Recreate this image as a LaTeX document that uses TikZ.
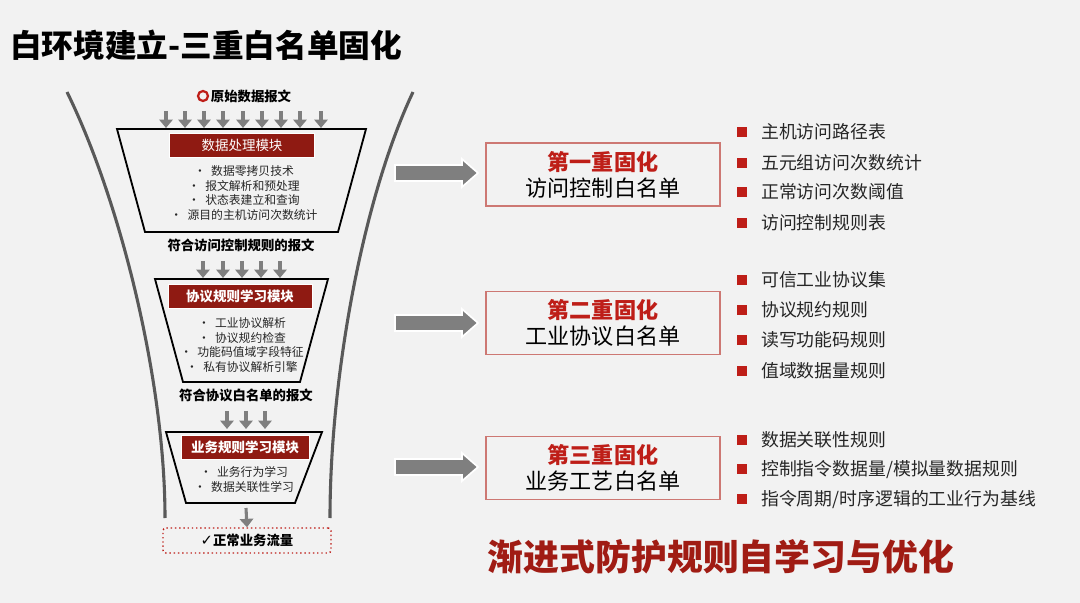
\documentclass[tikz,border=0pt]{standalone}
\usepackage{fontspec}
\setmainfont{Noto Sans CJK SC}
\newfontfamily\symfont{DejaVu Sans}
\usetikzlibrary{positioning, arrows.meta, calc}
\definecolor{cBg}{RGB}{242,242,242}
\definecolor{cLine}{RGB}{89,89,89}
\definecolor{cGray}{RGB}{127,127,127}
\definecolor{cDark}{RGB}{143,26,18}
\definecolor{cRed}{RGB}{190,30,24}
\definecolor{cBorder}{RGB}{205,120,115}
\definecolor{cText}{RGB}{38,38,38}
\definecolor{cSlogan}{RGB}{160,28,20}
\newcommand{\sq}{{\color{cRed}\raisebox{1.2pt}{\rule{7pt}{7pt}}}\hspace{10pt}}

\begin{document}
\begin{tikzpicture}[x=0.025cm, y=-0.025cm, >=Triangle,
    darr/.style={cGray, line width=2.2pt, -{Triangle[length=6pt, width=9.5pt]}},
    funnel/.style={black, line width=1.3pt, line join=miter},
    wall/.style={cLine, line width=2.2pt},
    modlabel/.style={fill=cDark, draw=white, line width=0.4pt, text=white, inner sep=0pt,
        minimum height=0.6cm, font=\fontsize{9.6}{11}\selectfont},
    bullets/.style={align=center, text=cText, inner sep=0pt, font=\fontsize{8.4}{10.4}\selectfont},
    passed/.style={font=\fontsize{9.5}{11}\selectfont\bfseries, inner sep=0pt},
    bigarrow/.style={fill=cGray, draw=white, line width=1.2pt, line join=miter},
    wlbox/.style={draw=cBorder, line width=0.8pt, align=center, text=black,
        minimum width=5.85cm, minimum height=1.575cm, font=\fontsize{15.7}{18.6}\selectfont},
    item/.style={anchor=west, inner sep=0pt, text=cText, font=\fontsize{12.7}{14}\selectfont},
]

    % --- background ---
    \fill[cBg] (0,0) rectangle (1080,603);
    \useasboundingbox (0,0) rectangle (1080,603);

    % --- title ---
    \node[anchor=west, inner sep=0pt, font=\fontsize{22.5}{26}\selectfont\bfseries] (title) at (10,45) {白环境建立-三重白名单固化};

    % --- funnel walls ---
    \draw[wall] (67,92) .. controls (120,200) and (165,380) .. (165,518);
    \draw[wall] (413,92) .. controls (362,200) and (330,380) .. (330,518);

    % --- raw input ---
    \draw[cRed, line width=1.6pt] (203,96) circle (5);
    \node[passed] (raw) at (251,96) {原始数据报文};
    \foreach \x in {166,185,204,223,243,262,281,300,321}
        \draw[darr] (\x,111) -- (\x,128);

    % --- module 1 ---
    \draw[funnel] (117,129) -- (366,129) -- (338,232) -- (145,232) -- cycle;
    \node[modlabel, minimum width=3.625cm] (mod1) at (242,145) {数据处理模块};
    \node[bullets] (list1) at (244,193) {•\ \ 数据零拷贝技术\\ •\ \ 报文解析和预处理\\ •\ \ 状态表建立和查询\\ •\ \ 源目的主机访问次数统计};
    \node[passed] (pass1) at (241,245) {符合访问控制规则的报文};
    \foreach \x in {203,223,242,261,280}
        \draw[darr] (\x,261) -- (\x,278);

    % --- module 2 ---
    \draw[funnel] (155,279) -- (328,279) -- (300,382) -- (183,382) -- cycle;
    \node[modlabel, minimum width=3.6cm, font=\fontsize{9.6}{11}\selectfont\bfseries] (mod2) at (240,296) {协议规则学习模块};
    \node[bullets] (list2) at (242,345) {•\ \ 工业协议解析\\ •\ \ 协议规约检查\\ •\ \ 功能码值域字段特征\\ •\ \ 私有协议解析引擎};
    \node[passed] (pass2) at (246,395) {符合协议白名单的报文};
    \foreach \x in {227,246,265}
        \draw[darr] (\x,411) -- (\x,429);

    % --- module 3 ---
    \draw[funnel] (166,432) -- (322,432) -- (295,503) -- (186,503) -- cycle;
    \node[modlabel, minimum width=3.2cm, font=\fontsize{9.6}{11}\selectfont\bfseries] (mod3) at (245,447) {业务规则学习模块};
    \node[bullets] (list3) at (244,479.5) {•\ \ 业务行为学习\\ •\ \ 数据关联性学习};

    % --- output ---
    \node[draw=cRed, dotted, line width=1pt, rounded corners=2pt, minimum width=4.2cm, minimum height=0.625cm,
        font=\fontsize{9.5}{11}\selectfont\bfseries] (normal) at (247,540.5) {{\symfont\fontsize{10.5}{11}\selectfont ✓}正常业务流量};
    \coordinate (out3) at (246,508);
    \draw[darr] (out3) -- (normal.north);

    % --- whitelist stages ---
    \foreach \y in {173,323,467}
        \draw[bigarrow] (395,\y-8) -- (462,\y-8) -- (462,\y-14) -- (478,\y) -- (462,\y+14)
            -- (462,\y+8) -- (395,\y+8) -- cycle;

    \node[wlbox] (wl1) at (603,174.5) {{\color{cRed}\bfseries 第一重固化}\\ 访问控制白名单};
    \node[wlbox] (wl2) at (603,323) {{\color{cRed}\bfseries 第二重固化}\\ 工业协议白名单};
    \node[wlbox] (wl3) at (603,468) {{\color{cRed}\bfseries 第三重固化}\\ 业务工艺白名单};

    % --- rule lists ---
    \node[item] (r11) at (737,132) {\sq 主机访问路径表};
    \node[item] (r12) at (737,163) {\sq 五元组访问次数统计};
    \node[item] (r13) at (737,192) {\sq 正常访问次数阈值};
    \node[item] (r14) at (737,223) {\sq 访问控制规则表};

    \node[item] (r21) at (737,280) {\sq 可信工业协议集};
    \node[item] (r22) at (737,310) {\sq 协议规约规则};
    \node[item] (r23) at (737,340) {\sq 读写功能码规则};
    \node[item] (r24) at (737,371) {\sq 值域数据量规则};

    \node[item] (r31) at (737,440) {\sq 数据关联性规则};
    \node[item] (r32) at (737,470) {\sq 控制指令数据量/模拟量数据规则};
    \node[item] (r33) at (737,500) {\sq 指令周期/时序逻辑的工业行为基线};

    % --- slogan ---
    \node[text=cSlogan, inner sep=0pt, font=\fontsize{25.5}{30}\selectfont\bfseries] (slogan) at (721,557) {渐进式防护规则自学习与优化};

\end{tikzpicture}
\end{document}
